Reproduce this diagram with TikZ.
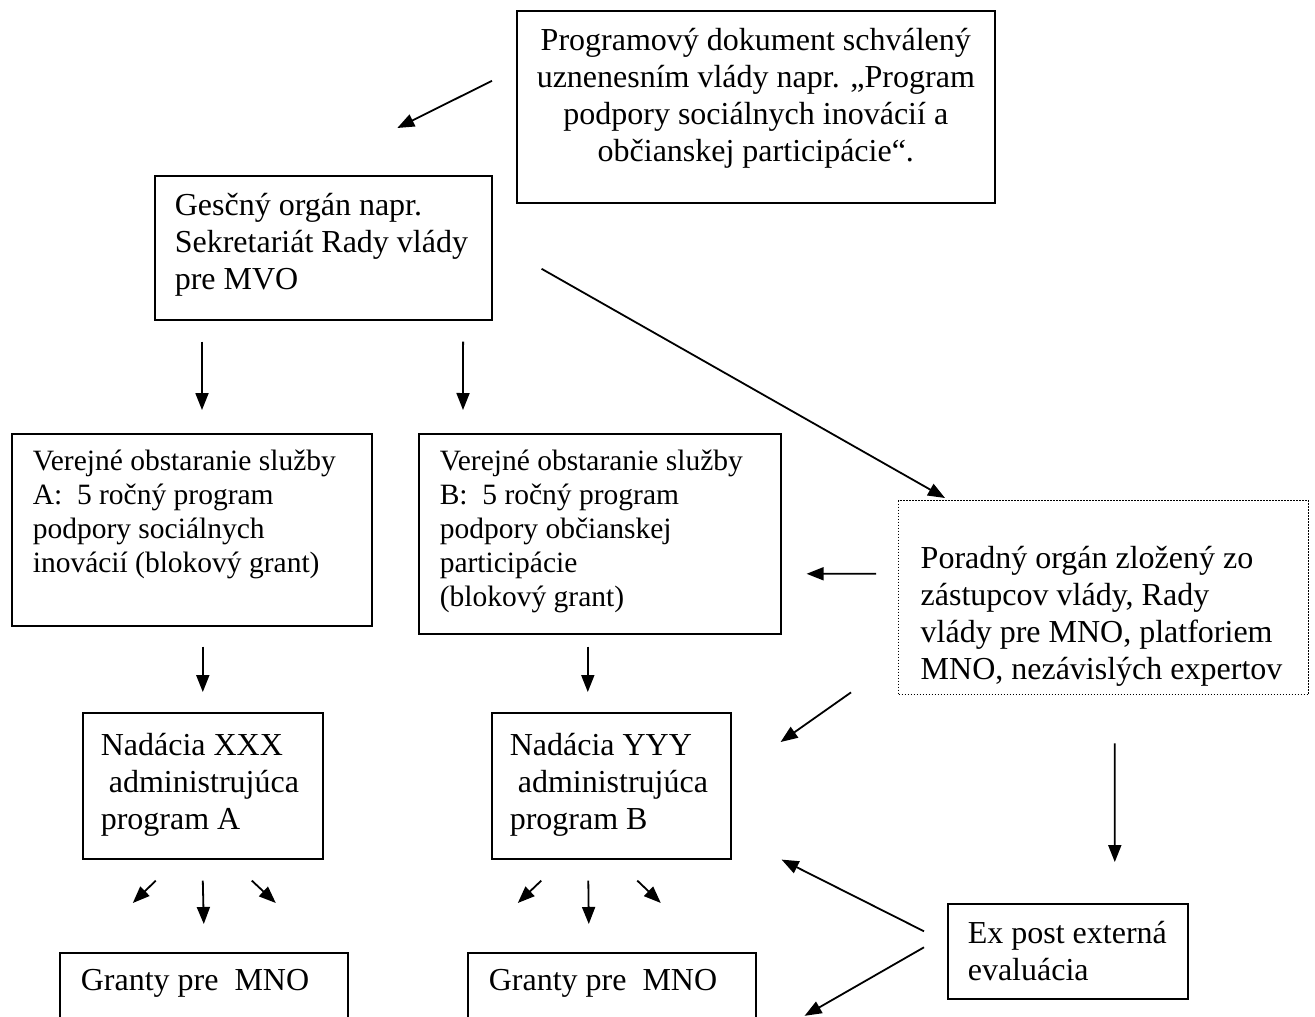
\documentclass[tikz,border=0pt]{standalone}
\usepackage{fontspec}
\setmainfont{Liberation Serif}
\usetikzlibrary{arrows.meta}
\newcommand\bodytext{\fontsize{32pt}{36.8pt}\selectfont}
\newcommand\smalltext{\fontsize{29.5pt}{34pt}\selectfont}

\begin{document}
\begin{tikzpicture}[x=1pt,y=-1pt,
    box/.style={draw,line width=1.6pt,anchor=north west,inner ysep=0pt,inner xsep=#1,align=flush left,font=\bodytext},
    box/.default=20pt,
    note/.style={box=#1,dash pattern=on 1.4pt off 1.6pt,line width=1.4pt},
    arr/.style={-{Triangle[length=17pt,width=13pt]},line width=1.8pt}]
    \path[use as bounding box,fill=white] (0,0) rectangle (1315,1017);
    \clip (0,0) rectangle (1315,1017);

    \node[box=10pt,align=flush center,text width=458pt,text height=40pt,text depth=152pt] (prog) at (516,10)
        {Programový dokument schválený\\ uznenesním vlády napr. „Program\\ podpory sociálnych inovácií a\\ občianskej participácie“.};
    \node[box=20pt,text width=297pt,text height=40pt,text depth=104pt] (gesc) at (154,175)
        {Gesčný orgán napr.\\ Sekretariát Rady vlády\\ pre MVO};

    \node[box=21pt,font=\smalltext,text width=318pt,text height=37pt,text depth=155pt] (verA) at (11,433)
        {Verejné obstaranie služby\\ A:\ \ 5 ročný program\\ podpory sociálnych\\ inovácií (blokový grant)};
    \node[box=21pt,font=\smalltext,text width=320pt,text height=37pt,text depth=163pt] (verB) at (418,433)
        {Verejné obstaranie služby\\ B:\ \ 5 ročný program\\ podpory občianskej\\ participácie\\ (blokový grant)};
    \node[note=22pt,text width=366pt,text height=68pt,text depth=126pt] (porad) at (898,500)
        {Poradný orgán zložený zo\\ zástupcov vlády, Rady\\ vlády pre MNO, platforiem\\ MNO, nezávislých expertov};

    \node[box=18pt,text width=204pt,text height=43pt,text depth=103pt] (nadA) at (82,712)
        {Nadácia XXX\\ \hspace*{0.25em}administrujúca\\ program A};
    \node[box=18pt,text width=203pt,text height=43pt,text depth=103pt] (nadB) at (491,712)
        {Nadácia YYY\\ \hspace*{0.25em}administrujúca\\ program B};
    \node[box=20pt,text width=200pt,text height=40pt,text depth=55pt] (expost) at (947,903)
        {Ex post externá\\ evaluácia};

    \node[box=21pt,text width=246pt,text height=38pt,text depth=88pt] (grantA) at (59,952) {Granty pre\ \ MNO};
    \node[box=21pt,text width=246pt,text height=38pt,text depth=88pt] (grantB) at (467,952) {Granty pre\ \ MNO};

    \draw[arr] ([shift={(-24,-26)}]prog.west) -- ([shift={(74,-47)}]gesc.north);
    \draw[arr] ([shift={(48,21)}]gesc.south west) -- ([shift={(191,-23)}]verA.north west);
    \draw[arr] ([shift={(-29.5,21)}]gesc.south east) -- ([shift={(45,-23)}]verB.north west);
    \draw[arr] ([shift={(49,21)}]gesc.east) -- ([shift={(47,-2)}]porad.north west);
    \draw[arr] ([shift={(-22,-24)}]porad.west) -- ([shift={(25,40)}]verB.east);
    \draw[arr] ([shift={(11,20)}]verA.south) -- ([shift={(0,-20)}]nadA.north);
    \draw[arr] ([shift={(-12,12)}]verB.south) -- ([shift={(-23.5,-20)}]nadB.north);
    \draw[arr] ([shift={(-47,-3)}]porad.south west) -- ([shift={(49,30)}]nadB.north east);
    \draw[arr] ([shift={(11,48)}]porad.south) -- ([shift={(47,-41)}]expost.north);
    \draw[arr] ([shift={(-23,-20)}]expost.west) -- ([shift={(50,0)}]nadB.south east);
    \draw[arr] ([shift={(-23,-4)}]expost.west) -- ([shift={(48,0)}]grantB.east);

    \foreach \nad/\gr/\dx in {nadA/grantA/0,nadB/grantB/-23}{
        \draw[arr] ([shift={(\dx,21)}]\nad.south) -- ([shift={(\dx,-28)}]\gr.north);
        \draw[arr] ([shift={(\dx-47,21)}]\nad.south) -- ([shift={(\dx-71,-49)}]\gr.north);
        \draw[arr] ([shift={(\dx+49,21)}]\nad.south) -- ([shift={(\dx+72,-49)}]\gr.north);
    }
\end{tikzpicture}
\end{document}
